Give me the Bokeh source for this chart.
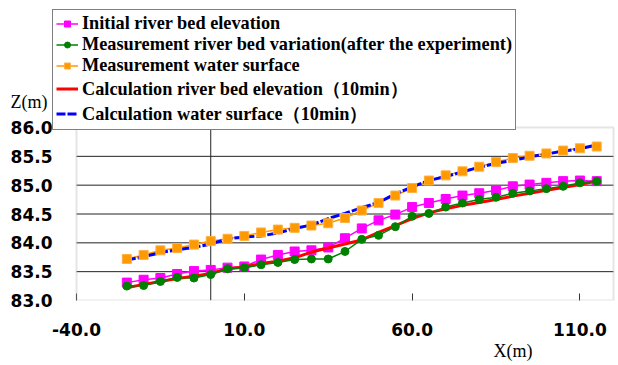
from bokeh.plotting import figure
from bokeh.models import (Range1d, LinearAxis, FixedTicker, NumeralTickFormatter,
                          Legend, LegendItem, Label, Title, BoxAnnotation)
from bokeh.embed import file_html
from bokeh.resources import INLINE

# ---------------- data ----------------
x_m = [-25, -20, -15, -10, -5, 0, 5, 10, 15, 20, 25, 30, 35, 40, 45, 50, 55,
       60, 65, 70, 75, 80, 85, 90, 95, 100, 105, 110, 115]

initial_bed = [83.31, 83.36, 83.39, 83.46, 83.51, 83.53, 83.57, 83.59, 83.71, 83.79,
               83.85, 83.87, 83.92, 84.08, 84.25, 84.39, 84.49, 84.62, 84.69, 84.76,
               84.82, 84.86, 84.91, 84.98, 85.01, 85.04, 85.07, 85.08, 85.07]

measured_bed = [83.25, 83.26, 83.33, 83.40, 83.39, 83.45, 83.55, 83.57, 83.62, 83.66,
                83.71, 83.72, 83.72, 83.85, 84.06, 84.13, 84.28, 84.46, 84.51, 84.62,
                84.69, 84.75, 84.79, 84.86, 84.90, 84.94, 84.98, 85.04, 85.07]

measured_ws = [83.72, 83.79, 83.87, 83.91, 83.97, 84.03, 84.07, 84.12, 84.18, 84.23,
               84.26, 84.30, 84.34, 84.43, 84.56, 84.69, 84.82, 84.95, 85.08, 85.17,
               85.24, 85.32, 85.40, 85.47, 85.51, 85.55, 85.60, 85.64, 85.67]

calc_bed = [83.22, 83.28, 83.33, 83.38, 83.42, 83.47, 83.55, 83.58, 83.64, 83.68,
            83.74, 83.84, 83.91, 83.98, 84.05, 84.18, 84.30, 84.42, 84.52, 84.59,
            84.65, 84.70, 84.75, 84.81, 84.86, 84.91, 84.96, 85.01, 85.07]

calc_ws = [83.70, 83.76, 83.83, 83.88, 83.92, 83.98, 84.07, 84.10, 84.12, 84.17,
           84.25, 84.31, 84.42, 84.51, 84.61, 84.70, 84.85, 84.97, 85.08, 85.15,
           85.23, 85.31, 85.38, 85.43, 85.49, 85.54, 85.59, 85.63, 85.70]

x_ticks = [-40, 10, 60, 110]
y_ticks = [83.0, 83.5, 84.0, 84.5, 85.0, 85.5, 86.0]
x_min, x_max = -40, 120
y_min, y_max = 83.0, 86.0
x_cross = 0

labels = ["Initial river bed elevation",
          "Measurement river bed variation(after the experiment)",
          "Measurement water surface",
          "Calculation river bed elevation\uff0810min\uff09",
          "Calculation water surface\uff0810min\uff09"]
y_title = "Z(m)"
x_title = "X(m)"

C_IB, C_MB, C_WS, C_CB, C_CW = "#ff00ff", "#008000", "#ff9900", "#ff0000", "#0000ff"

# ---------------- layout geometry (pixels) ----------------
W, H = 618, 365
FRAME_L, FRAME_R, FRAME_T, FRAME_B = 8, 615, 4, 300      # drawing frame on the canvas
AREA_L = 76                                              # left edge of plot area (x = -40)
px_per_x = (FRAME_R - AREA_L) / (x_max + 0.6 - x_min)
px_per_y = 173.0 / (y_max - y_min)
xr_start = x_min - (AREA_L - FRAME_L) / px_per_x
xr_end = x_min + (FRAME_R - AREA_L) / px_per_x
yr_end = y_min + (FRAME_B - FRAME_T) / px_per_y

p = figure(width=W, height=H, output_backend="svg", toolbar_location=None,
           x_range=Range1d(xr_start, xr_end), y_range=Range1d(y_min, yr_end),
           x_axis_type=None, y_axis_type=None,
           min_border_left=FRAME_L, min_border_right=W - FRAME_R,
           min_border_top=FRAME_T, min_border_bottom=H - FRAME_B)
p.background_fill_color = "white"
p.border_fill_color = "white"
p.outline_line_color = None
p.xgrid.grid_line_color = None
p.ygrid.grid_line_color = None

tick_font = "DejaVu Sans"

yaxis = LinearAxis(ticker=FixedTicker(ticks=y_ticks),
                   formatter=NumeralTickFormatter(format="0.0"))
yaxis.major_tick_in = 0
yaxis.major_tick_out = 0
yaxis.minor_tick_line_color = None
yaxis.axis_line_color = None
yaxis.major_label_text_font = tick_font
yaxis.major_label_text_font_style = "bold"
yaxis.major_label_text_font_size = "17px"
yaxis.major_label_text_color = "black"
yaxis.major_label_standoff = -(52 - FRAME_L)
p.add_layout(yaxis, "left")

xaxis = LinearAxis(ticker=FixedTicker(ticks=x_ticks),
                   formatter=NumeralTickFormatter(format="0.0"))
xaxis.major_tick_in = 7
xaxis.major_tick_out = 0
xaxis.major_tick_line_color = "#333333"
xaxis.minor_tick_line_color = None
xaxis.axis_line_color = None
xaxis.major_label_text_font = tick_font
xaxis.major_label_text_font_style = "bold"
xaxis.major_label_text_font_size = "17px"
xaxis.major_label_text_color = "black"
xaxis.major_label_standoff = 22
p.add_layout(xaxis, "below")

p.add_layout(Title(text=x_title, align="left", offset=493 - FRAME_L, standoff=0,
                   text_font="Liberation Serif", text_font_size="18px",
                   text_font_style="normal", text_color="black"), "below")

# grid lines inside the plot area
inner = y_ticks[1:-1]
p.segment(x0=[x_min] * len(inner), x1=[x_max] * len(inner), y0=inner, y1=inner,
          line_color="#222222", line_width=1)
p.segment(x0=[x_cross], x1=[x_cross], y0=[y_min], y1=[y_max],
          line_color="#222222", line_width=1)

# plot-area border
p.add_layout(BoxAnnotation(left=x_min, right=x_max, bottom=y_min, top=y_max,
                           fill_alpha=0, line_color="#a8a8a8", line_width=2))

# ---------------- series ----------------
r_ib_l = p.line(x_m, initial_bed, line_color=C_IB, line_width=1.5)
r_ib_m = p.scatter(x_m, initial_bed, marker="square", size=9, fill_color=C_IB, line_color=C_IB)
r_ws_l = p.line(x_m, measured_ws, line_color=C_WS, line_width=1.5)
r_cb = p.line(x_m, calc_bed, line_color=C_CB, line_width=3)
r_cw = p.line(x_m, calc_ws, line_color=C_CW, line_width=3, line_dash="9 2")
r_mb_l = p.line(x_m, measured_bed, line_color=C_MB, line_width=1.5)
r_mb_m = p.scatter(x_m, measured_bed, marker="circle", size=8, fill_color=C_MB, line_color=C_MB)
r_ws_m = p.scatter(x_m, measured_ws, marker="square", size=9, fill_color=C_WS,
                   line_color="#ffb040")

# ---------------- legend ----------------
legend = Legend(items=[
    LegendItem(label=labels[0], renderers=[r_ib_l, r_ib_m]),
    LegendItem(label=labels[1], renderers=[r_mb_l, r_mb_m]),
    LegendItem(label=labels[2], renderers=[r_ws_l, r_ws_m]),
    LegendItem(label=labels[3], renderers=[r_cb]),
    LegendItem(label=labels[4], renderers=[r_cw]),
], location=(52 - FRAME_L, FRAME_B - 130))
legend.label_text_font = "Liberation Serif"
legend.label_text_font_style = "bold"
legend.label_text_font_size = "18.3px"
legend.label_text_color = "black"
legend.label_height = 20
legend.glyph_height = 15
legend.glyph_width = 22
legend.label_standoff = 4
legend.spacing = 0
legend.padding = 3
legend.margin = 0
legend.border_line_color = "black"
legend.border_line_width = 1
legend.background_fill_color = "white"
legend.background_fill_alpha = 1
p.add_layout(legend, "center")

p.add_layout(Label(x=10 - FRAME_L, y=FRAME_B - 111, x_units="screen", y_units="screen",
                   text=y_title, text_font="Liberation Serif", text_font_size="18px",
                   text_color="black"))

open("out.html", "w").write(file_html(p, INLINE))
